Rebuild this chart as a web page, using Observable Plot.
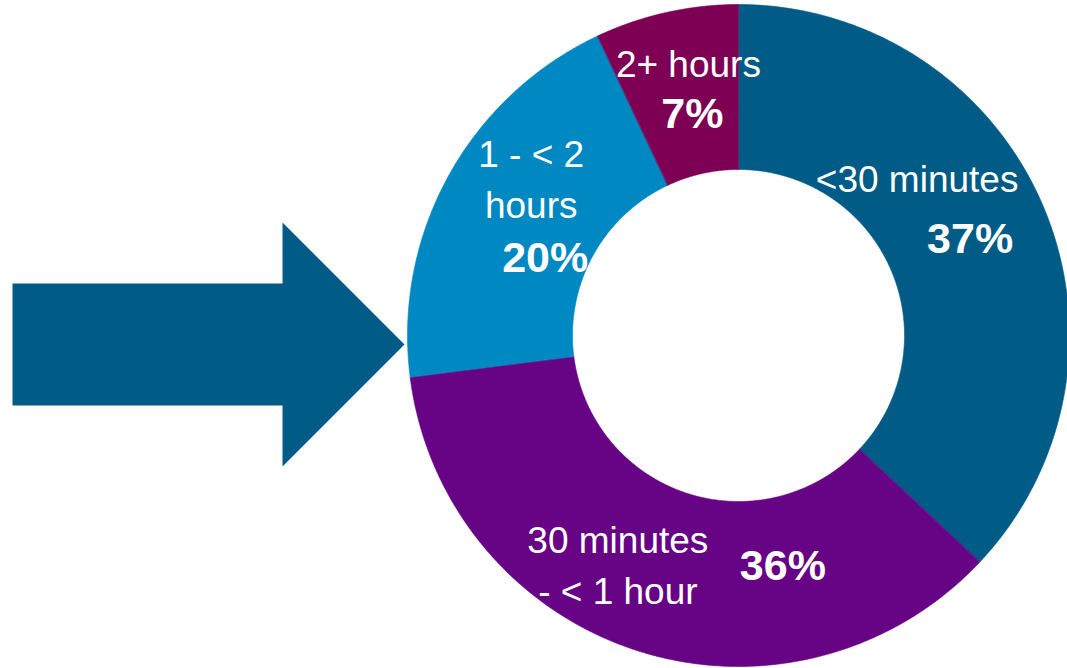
<!DOCTYPE html>
<html><head><meta charset="utf-8">
<script src="https://cdn.jsdelivr.net/npm/d3@7"></script>
<script src="https://cdn.jsdelivr.net/npm/@observablehq/plot@0.6"></script>
<style>
  html,body{margin:0;padding:0;background:#fff;overflow:hidden}
  svg{display:block}
</style>
</head><body><div id="chart"></div>
<script>
// ---- data ----
const categories = ["<30 minutes", "30 minutes\n- < 1 hour", "1 - < 2\nhours", "2+ hours"];
const shares = [37, 36, 20, 7];
const pctLabels = ["37%", "36%", "20%", "7%"];
const sliceColors = ["#005c86", "#670385", "#0088c2", "#7e0054"];

// ---- layout (pixels == data units) ----
const W = 1067, H = 668;
const cx = 738, cy = 335;          // donut centre in the frame
const rOuter = 331, rInner = 166, rLabel = 248;

// label nudges relative to slice centroid [nameDx, nameDy, pctDx, pctDy]
const nudge = [
  [-49, -61, 4, 2],
  [-44, -9, 121, -5],
  [10, -40, 24, 42],
  [4, -33, 8, 21]
];

const pie = d3.pie().sort(null).value(d => d.value);
const arcs = pie(categories.map((c, i) => ({cat: c, value: shares[i], i})));

const pt = (r, a) => [r * Math.sin(a), -r * Math.cos(a)];
const ringPoints = [];
for (const a of arcs) {
  const n = Math.max(4, Math.ceil((a.endAngle - a.startAngle) / (Math.PI / 360)));
  for (let k = 0; k <= n; k++) {
    const t = a.startAngle + (a.endAngle - a.startAngle) * k / n;
    const [x, y] = pt(rOuter, t);
    ringPoints.push({cat: a.data.cat, x, y});
  }
  for (let k = n; k >= 0; k--) {
    const t = a.startAngle + (a.endAngle - a.startAngle) * k / n;
    const [x, y] = pt(rInner, t);
    ringPoints.push({cat: a.data.cat, x, y});
  }
}

const nameLabels = arcs.map(a => {
  const m = (a.startAngle + a.endAngle) / 2;
  const [x, y] = pt(rLabel, m);
  const nd = nudge[a.data.i];
  return {text: a.data.cat, x: x + nd[0], y: y + nd[1]};
});
const pctLabelData = arcs.map(a => {
  const m = (a.startAngle + a.endAngle) / 2;
  const [x, y] = pt(rLabel, m);
  const nd = nudge[a.data.i];
  return {text: pctLabels[a.data.i], x: x + nd[2], y: y + nd[3]};
});

// arrow pointing at the donut
const tipX = -rOuter - 3, tipY = 9;
const headLen = 122, headHalf = 122, bodyHalf = 61, tailX = 12 - cx;
const arrowPts = [
  [tailX, tipY - bodyHalf], [tipX - headLen, tipY - bodyHalf], [tipX - headLen, tipY - headHalf],
  [tipX, tipY], [tipX - headLen, tipY + headHalf], [tipX - headLen, tipY + bodyHalf],
  [tailX, tipY + bodyHalf]
].map(([x, y]) => ({x, y}));

const font = "'Liberation Sans', Arial, Helvetica, sans-serif";

const chart = Plot.plot({
  width: W, height: H,
  margin: 0,
  x: {domain: [-cx, W - cx], range: [0, W], axis: null},
  y: {domain: [-cy, H - cy], range: [0, H], axis: null},
  color: {domain: categories, range: sliceColors},
  marks: [
    Plot.line(arrowPts, {x: "x", y: "y", fill: "#005c86", stroke: "none", curve: "linear-closed"}),
    Plot.line(ringPoints, {x: "x", y: "y", z: "cat", fill: "cat", stroke: "cat", strokeWidth: 0.6, curve: "linear-closed"}),
    Plot.text(nameLabels, {x: "x", y: "y", text: "text", fill: "white", fontSize: 37, lineHeight: 1.38, fontFamily: font, textAnchor: "middle"}),
    Plot.text(pctLabelData, {x: "x", y: "y", text: "text", fill: "white", fontSize: 43, fontWeight: "bold", fontFamily: font, textAnchor: "middle"})
  ]
});
document.getElementById("chart").append(chart);
</script>
</body></html>
